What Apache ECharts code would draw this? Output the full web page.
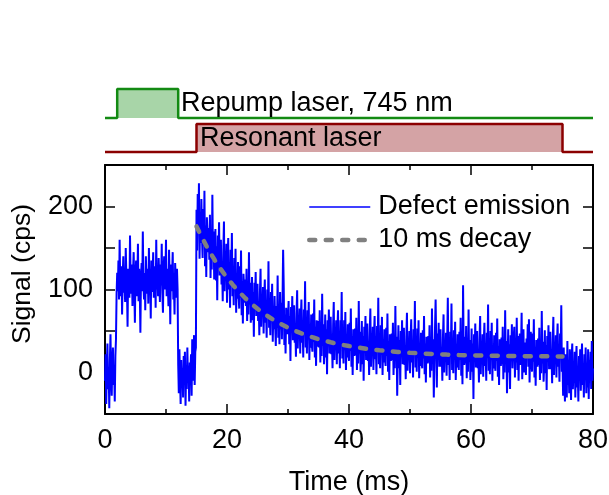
<!DOCTYPE html>
<html>
<head>
<meta charset="utf-8">
<script src="https://cdn.jsdelivr.net/npm/echarts@6/dist/echarts.min.js"></script>
<style>
  html, body { margin: 0; padding: 0; background: #fff; }
  #chart { width: 609px; height: 495px; }
</style>
</head>
<body>
<div id="chart"></div>
<script>
// Photon counts sampled every 0.1 ms, split by laser phase
const sampleStep = 0.1; // ms

// 0.0 – 1.9 ms: both lasers off
const signalPre = [-10, 22, -38, 8, 35, -20, 5, -43, 15, 46, -5, -28, 12, 30, -15, 3, -35, 20, 40, 95];

// 2.0 – 11.9 ms: repump laser on
const signalRepump = [
  120, 98, 135, 88, 160, 105, 92, 128, 70, 115,
  140, 96, 110, 85, 150, 118, 100, 55, 125, 108,
  90, 165, 112, 95, 130, 80, 122, 145, 102, 60,
  118, 135, 92, 110, 155, 86, 125, 100, 48, 115,
  132, 98, 170, 105, 88, 120, 75, 140, 110, 95,
  125, 83, 150, 102, 118, 65, 135, 97, 112, 145,
  90, 108, 128, 78, 160, 100, 120, 92, 138, 110,
  85, 130, 105, 155, 96, 72, 122, 140, 100, 115,
  160, 92, 125, 108, 80, 148, 112, 58, 130, 98,
  118, 145, 88, 105, 70, 132, 110, 90, 125, 100
];

// 12.0 – 14.9 ms: dark interval
const signalDark = [
  10, -25, 28, -8, -38, 15, -15, 5, -30, 20,
  -5, 25, -40, 2, -20, 30, -12, 8, -35, 12,
  -2, 22, -28, 40, -10, 18, 45, -15, 25, 30
];

// 15.0 – 74.9 ms: resonant laser on
const signalResonant = [
  196, 147, 215, 169, 228, 137, 186, 156, 209, 163,
  138, 197, 153, 219, 128, 177, 115, 187, 168, 145,
  174, 136, 190, 114, 160, 124, 214, 138, 170, 112,
  125, 173, 111, 152, 87, 165, 137, 181, 117, 147,
  160, 106, 130, 86, 148, 182, 98, 138, 118, 155,
  84, 136, 162, 100, 121, 78, 148, 112, 168, 92,
  121, 81, 138, 100, 149, 72, 114, 89, 133, 94,
  77, 128, 90, 147, 69, 110, 59, 119, 103, 84,
  112, 80, 125, 62, 100, 70, 145, 82, 108, 60,
  75, 115, 63, 97, 43, 108, 85, 121, 68, 93,
  107, 62, 82, 45, 97, 125, 55, 89, 72, 103,
  47, 90, 112, 60, 78, 42, 100, 70, 134, 54,
  82, 45, 97, 62, 107, 37, 75, 52, 92, 57,
  32, 80, 54, 117, 42, 72, 34, 97, 52, 84,
  40, 86, 148, 103, 33, 70, 23, 78, 63, 46,
  46, 86, 34, 68, 14, 79, 56, 92, 39, 64,
  81, 36, 56, 19, 71, 99, 29, 63, 46, 77,
  23, 66, 88, 36, 54, 18, 76, 46, 110, 30,
  60, 23, 75, 40, 85, 15, 53, 30, 70, 35,
  25, 71, 37, 88, 18, 55, 8, 63, 48, 31,
  62, 30, 75, 12, 50, 20, 95, 32, 58, 10,
  30, 70, 18, 52, -2, 63, 40, 76, 23, 48,
  67, 22, 42, 5, 57, 85, 15, 49, 32, 63,
  10, 53, 75, 23, 41, 5, 63, 33, 97, 17,
  48, 11, 63, 28, 73, 3, 41, 18, 58, 23,
  14, 60, 26, 77, 7, 44, -3, 52, 37, 20,
  53, 21, 66, 3, 41, 11, 86, 23, 49, 1,
  22, 62, 10, 44, -10, 55, 32, 68, 15, 40,
  59, 14, 34, -3, 49, 77, 7, 41, 24, 55,
  3, 46, 68, 16, 34, -2, 56, 26, 90, 10,
  42, 5, 57, 22, 67, -3, 35, 12, 52, 17,
  8, 54, 20, 71, 1, 38, -9, 46, 31, 14,
  47, 15, 60, -3, 35, 5, 80, 17, 43, -28,
  17, 57, 5, 39, -15, 50, 27, 63, 10, 35,
  54, 9, 29, -8, 44, 72, 2, 36, 19, 50,
  -1, 42, 64, 12, 30, -6, 52, 22, 86, 6,
  38, 1, 53, 18, 63, -7, 31, 8, 48, 13,
  5, 51, 17, 68, -2, 35, -12, 43, 28, 11,
  44, 12, 57, -6, 32, 2, 77, 14, 40, -30,
  14, 54, 88, 36, -18, 47, 24, 60, 7, 32,
  52, 7, 27, -10, 42, 70, 0, 34, 17, 48,
  -4, 39, 90, 9, 27, -9, 49, 19, 83, 3,
  36, -1, 51, 16, 61, -9, 29, 6, 46, 11,
  3, 49, 15, 66, -4, 33, -14, 105, 26, 9,
  43, 11, 56, -7, 31, 1, 76, 13, 39, -9,
  13, 53, 1, 35, -32, 46, 23, 59, 6, 31,
  50, 5, 25, -12, 40, 68, -2, 32, 15, 46,
  -5, 38, 60, 8, 26, -10, 48, 18, 82, 2,
  35, -2, 50, 15, 60, -10, 28, 5, 45, 10,
  2, 48, 14, 65, -5, 32, -15, 40, 25, 8,
  42, 10, 55, -8, 30, 0, 75, 12, 38, -25,
  12, 52, 0, 34, -20, 45, 22, 58, 5, 30,
  28, 55, -6, 38, 12, 66, 3, 44, -10, 33,
  47, 9, 30, 72, -8, 25, 52, 0, 36, 18,
  -3, 41, 20, 58, 7, 64, -12, 30, 49, 14,
  1, 47, 13, 64, -6, 31, -16, 39, 24, 7,
  41, 9, 54, -9, 29, -1, 74, 11, 37, -11,
  11, 51, -1, 33, -21, 44, 21, 57, 4, 29,
  49, 4, 24, -13, 39, 67, -3, 31, 14, 45,
  -6, 37, 59, 7, 25, -11, 47, 17, 81, 1
];

// 75.0 – 80.0 ms: lasers off again
const signalAfter = [
  15, -28, 30, -10, -35, 22, 5, -30, 38, -15,
  8, -25, 28, -5, -33, 18, 35, -20, 3, -12,
  25, -30, 10, 32, -18, 0, -35, 20, -8, 28,
  -22, 12, 35, -15, 5, -30, 22, -5, 30, -25,
  10, -18, 28, -32, 15, 0, 25, -20, 38, -10, 5
];

// Exponential decay (10 ms time constant) fitted to the resonant phase
const decayTime  = [15, 16, 17, 18, 19, 20, 21, 22, 23, 24, 25, 26, 27, 28, 29, 30, 31, 32, 33, 34, 35,
                    36, 37, 38, 39, 40, 41, 42, 43, 44, 45, 46, 47, 48, 49, 50, 52, 54, 56, 58, 60,
                    63, 66, 69, 72, 75];
const decayValue = [176.0, 161.1, 147.5, 135.3, 124.2, 114.2, 105.2, 97.0, 89.5, 82.8, 76.8, 71.3, 66.3,
                    61.8, 57.7, 54.0, 50.7, 47.7, 45.0, 42.5, 40.2, 38.2, 36.4, 34.7, 33.2, 31.9, 30.7,
                    29.6, 28.5, 27.6, 26.8, 26.1, 25.4, 24.8, 24.2, 23.7, 22.9, 22.2, 21.6, 21.1, 20.7,
                    20.3, 20.0, 19.7, 19.5, 19.4];

// Laser timing (ms) and on/off state
const repumpTime     = [0, 2, 2, 12, 12, 80];
const repumpState    = [0, 0, 1, 1, 0, 0];
const resonantTime   = [0, 15, 15, 75, 75, 80];
const resonantState  = [0, 0, 1, 1, 0, 0];

const xTicks = { min: 0, max: 80, step: 20 };
const yTicks = { min: -50, max: 250, step: 50, labelEvery: 100 };

const signal = [].concat(signalPre, signalRepump, signalDark, signalResonant, signalAfter);
const signalData = signal.map((v, i) => [Math.round(i * sampleStep * 10) / 10, v]);
const decayData = decayTime.map((t, i) => [t, decayValue[i]]);
const repumpData = repumpTime.map((t, i) => [t, repumpState[i]]);
const resonantData = resonantTime.map((t, i) => [t, resonantState[i]]);

const font = '"Liberation Sans", Arial, sans-serif';
const fs = 27;

const decayLine = { color: '#808080', width: 4.5, type: [6, 10.5], cap: 'round' };

const frameAxis = {
  axisLine: { show: true, onZero: false, lineStyle: { color: '#000', width: 2 } },
  splitLine: { show: false }
};

const chart = echarts.init(document.getElementById('chart'), null, { renderer: 'canvas' });
chart.setOption({
  animation: false,
  backgroundColor: '#fff',
  textStyle: { fontFamily: font },
  grid: [
    { left: 105, top: 165, width: 488, height: 249, outerBoundsMode: 'none' },
    { left: 105, top: 89, width: 488, height: 29, outerBoundsMode: 'none' },
    { left: 105, top: 124, width: 488, height: 28, outerBoundsMode: 'none' }
  ],
  xAxis: [
    Object.assign({}, frameAxis, {
      type: 'value', gridIndex: 0, position: 'bottom',
      min: xTicks.min, max: xTicks.max, interval: xTicks.step,
      axisTick: { inside: true, length: 10, lineStyle: { color: '#000', width: 1.5 } },
      minorTick: { show: true, splitNumber: 2, length: 5, lineStyle: { color: '#000', width: 1.5 } },
      axisLabel: { margin: 13, color: '#000', fontSize: fs, fontFamily: font },
      name: 'Time (ms)', nameLocation: 'middle', nameGap: 55,
      nameTextStyle: { color: '#000', fontSize: fs, fontFamily: font }
    }),
    Object.assign({}, frameAxis, {
      type: 'value', gridIndex: 0, position: 'top',
      min: xTicks.min, max: xTicks.max, interval: xTicks.step,
      axisTick: { inside: true, length: 10, lineStyle: { color: '#000', width: 1.5 } },
      minorTick: { show: true, splitNumber: 2, length: 5, lineStyle: { color: '#000', width: 1.5 } },
      axisLabel: { show: false }
    }),
    { type: 'value', gridIndex: 1, min: 0, max: 80, show: false },
    { type: 'value', gridIndex: 2, min: 0, max: 80, show: false }
  ],
  yAxis: [
    Object.assign({}, frameAxis, {
      type: 'value', gridIndex: 0, position: 'left',
      min: yTicks.min, max: yTicks.max, interval: yTicks.step,
      axisTick: { inside: true, length: 10, lineStyle: { color: '#000', width: 1.5 } },
      axisLabel: {
        margin: 12, color: '#000', fontSize: fs, fontFamily: font,
        formatter: v => (v % yTicks.labelEvery === 0 ? String(v) : '')
      },
      name: 'Signal (cps)', nameLocation: 'middle', nameGap: 69,
      nameTextStyle: { color: '#000', fontSize: 26.5, fontFamily: font, padding: [0, 0, 0, 31] }
    }),
    Object.assign({}, frameAxis, {
      type: 'value', gridIndex: 0, position: 'right',
      min: yTicks.min, max: yTicks.max, interval: yTicks.step,
      axisTick: { inside: true, length: 10, lineStyle: { color: '#000', width: 1.5 } },
      axisLabel: { show: false }
    }),
    { type: 'value', gridIndex: 1, min: 0, max: 1, show: false },
    { type: 'value', gridIndex: 2, min: 0, max: 1, show: false }
  ],
  legend: {
    orient: 'vertical', left: 307, top: 192, padding: 0,
    itemWidth: 61, itemHeight: 14, itemGap: 3,
    itemStyle: { opacity: 0 },
    textStyle: { color: '#000', fontSize: fs, fontFamily: font, lineHeight: 30, padding: [0, 0, 0, 3] },
    data: [
      { name: 'Defect emission', lineStyle: { color: '#0000ff', width: 1.6 } },
      { name: '10 ms decay', lineStyle: decayLine }
    ]
  },
  series: [
    {
      name: 'Defect emission', type: 'line', xAxisIndex: 0, yAxisIndex: 0,
      data: signalData, symbol: 'none', sampling: null, z: 2,
      lineStyle: { color: '#0000ff', width: 2 }, itemStyle: { color: '#0000ff' }
    },
    {
      name: '10 ms decay', type: 'line', xAxisIndex: 0, yAxisIndex: 0,
      data: decayData, symbol: 'none', z: 3,
      lineStyle: decayLine,
      itemStyle: { color: '#808080' }
    },
    {
      name: 'Repump laser', type: 'line', xAxisIndex: 2, yAxisIndex: 2,
      data: repumpData, symbol: 'none', clip: false,
      lineStyle: { color: '#138a13', width: 2.5 },
      areaStyle: { color: '#a8d5a8', opacity: 1 }
    },
    {
      name: 'Resonant laser', type: 'line', xAxisIndex: 3, yAxisIndex: 3,
      data: resonantData, symbol: 'none', clip: false,
      lineStyle: { color: '#8b0000', width: 2.5 },
      areaStyle: { color: '#d4a3a5', opacity: 1 }
    }
  ],
  graphic: [
    { type: 'text', left: 181, top: 90, z: 10,
      style: { text: 'Repump laser, 745 nm', fill: '#000', font: fs + 'px ' + font } },
    { type: 'text', left: 200, top: 125, z: 10,
      style: { text: 'Resonant laser', fill: '#000', font: fs + 'px ' + font } }
  ]
});
</script>
</body>
</html>
